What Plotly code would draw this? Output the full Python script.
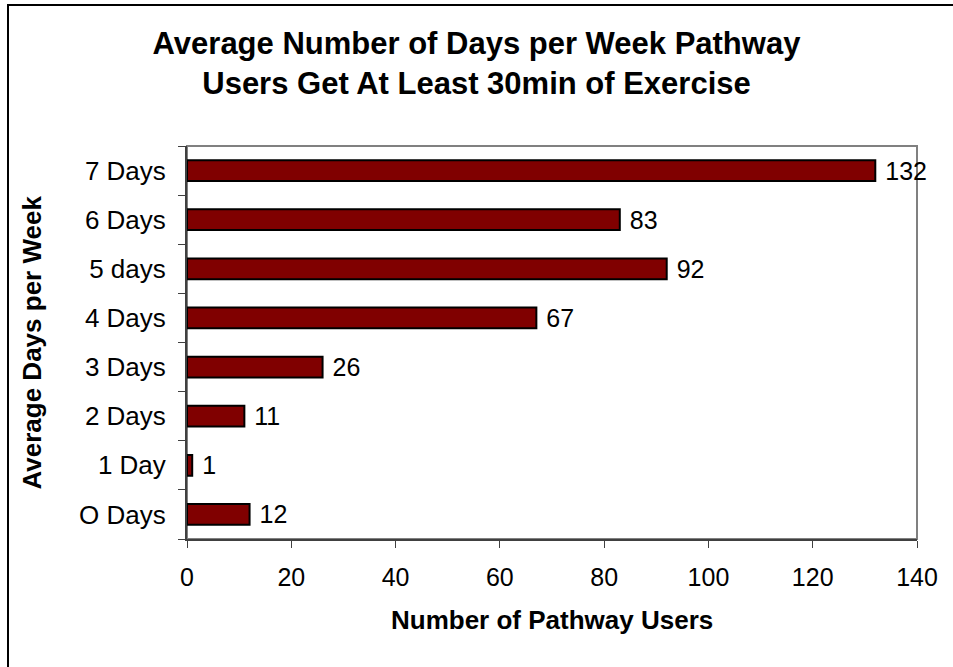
import plotly.graph_objects as go

# Chart data
categories = ['O Days', '1 Day', '2 Days', '3 Days', '4 Days', '5 days', '6 Days', '7 Days']
users = [12, 1, 11, 26, 67, 92, 83, 132]
x_ticks = [0, 20, 40, 60, 80, 100, 120, 140]

font_family = 'Arial, Liberation Sans, sans-serif'

fig = go.Figure()

# Horizontal bars, dark red with black outline
fig.add_trace(go.Bar(
    y=categories,
    x=users,
    orientation='h',
    width=0.42,
    marker=dict(color='#800000', line=dict(color='black', width=2)),
    text=[' ' + str(v) for v in users],
    textposition='outside',
    constraintext='none',
    textfont=dict(family=font_family, size=25, color='black'),
    cliponaxis=False,
    hoverinfo='skip',
))

fig.update_layout(
    width=953,
    height=667,
    margin=dict(l=187, r=36, t=146, b=128),
    paper_bgcolor='white',
    plot_bgcolor='white',
    showlegend=False,
    font=dict(family=font_family, color='black'),
    title=dict(
        text='<b>Average Number of Days per Week Pathway<br>Users Get At Least 30min of Exercise</b>',
        x=0.5, xref='container', xanchor='center',
        y=1 - 54 / 667, yref='container', yanchor='middle',
        font=dict(family=font_family, size=31, color='black'),
    ),
    xaxis=dict(
        range=[0, 140],
        tickvals=x_ticks,
        ticks='outside', ticklen=7, tickcolor='#404040', tickwidth=1,
        ticklabelstandoff=8,
        showline=True, linecolor='#404040', linewidth=2,
        showgrid=False, zeroline=False,
        tickfont=dict(size=25),
    ),
    yaxis=dict(
        categoryorder='array', categoryarray=categories,
        ticks='outside', ticklen=7, tickcolor='#404040', tickwidth=1,
        tickson='boundaries',
        ticklabelstandoff=14,
        showline=True, linecolor='#404040', linewidth=2,
        showgrid=False, zeroline=False,
        tickfont=dict(size=26),
    ),
)

# Axis titles as annotations
fig.add_annotation(
    text='<b>Average Days per Week</b>', textangle=-90,
    xref='paper', yref='paper', x=(31 - 187) / 730, y=0.5,
    xanchor='center', yanchor='middle',
    showarrow=False, font=dict(size=26),
)
fig.add_annotation(
    text='<b>Number of Pathway Users</b>',
    xref='paper', yref='paper', x=0.5, y=-(620 - 539) / 393,
    xanchor='center', yanchor='middle',
    showarrow=False, font=dict(size=26),
)

# Gray plot area border (top/right visible)
fig.add_shape(type='rect', xref='paper', yref='paper', x0=0, y0=0, x1=1, y1=1,
              line=dict(color='#808080', width=2), layer='below')

# Outer chart frame (left and top edges visible)
fig.add_shape(type='rect', xref='paper', yref='paper',
              x0=(8 - 187) / 730, y0=-(680 - 539) / 393,
              x1=(970 - 187) / 730, y1=1 + (146 - 5) / 393,
              line=dict(color='black', width=2), layer='below')

# remove the default page margin so the figure sits at the window origin
fig.write_html('out.html', config={'displayModeBar': False},
               post_script="document.body.style.margin='0';")
